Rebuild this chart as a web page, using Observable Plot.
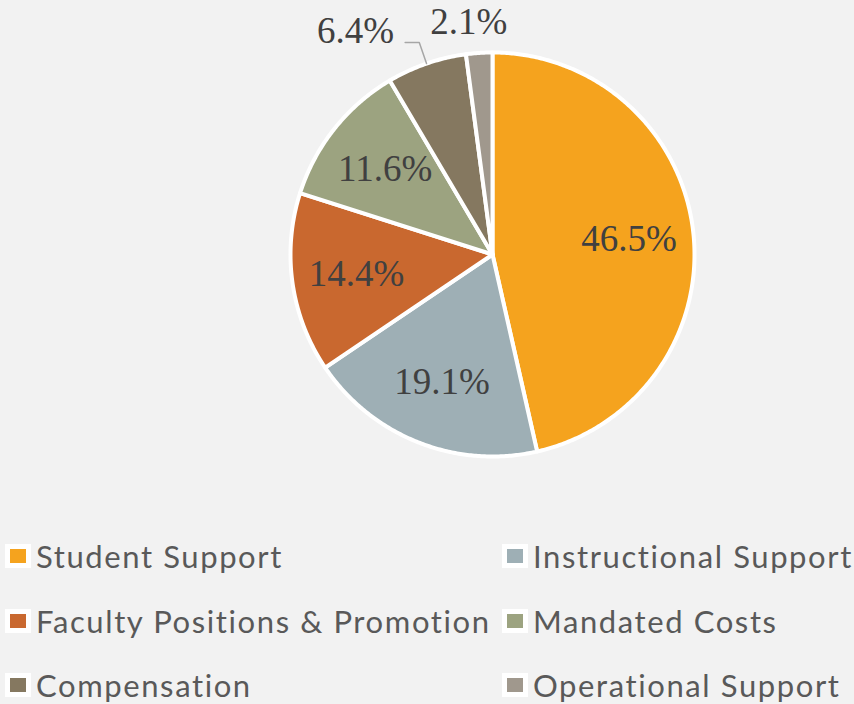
<!DOCTYPE html>
<html>
<head>
<meta charset="utf-8">
<script src="https://cdn.jsdelivr.net/npm/d3@7"></script>
<script src="https://cdn.jsdelivr.net/npm/@observablehq/plot@0.6"></script>
<style>
  html, body { margin: 0; padding: 0; background: #f2f2f2; }
  #wrap { position: relative; width: 854px; height: 704px; background: #f2f2f2; overflow: hidden; }
  #chart svg { display: block; }
  .lg { position: absolute; display: flex; align-items: center; font-family: Lato, "Open Sans", sans-serif; font-size: 31px; letter-spacing: 1.6px; color: #595959; white-space: nowrap; height: 40px; }
  .sw { width: 16px; height: 14px; border: 5px solid #ffffff; margin-right: 5px; box-sizing: content-box; }
</style>
</head>
<body>
<div id="wrap">
  <div id="chart"></div>
  <div id="legend"></div>
</div>
<script>
const categories = ["Student Support", "Instructional Support", "Faculty Positions & Promotion", "Mandated Costs", "Compensation", "Operational Support"];
const shares = [46.5, 19.1, 14.4, 11.6, 6.4, 2.1];
const labels = ["46.5%", "19.1%", "14.4%", "11.6%", "6.4%", "2.1%"];
const colors = ["#f5a31e", "#9eafb5", "#c9682f", "#9ca380", "#857860", "#a0988d"];

const total = d3.sum(shares);
const rad = d => d * Math.PI / 180;
const polar = (deg, r) => ({x: r * Math.sin(rad(deg)), y: r * Math.cos(rad(deg))});

// build slice polygons from the shares
let start = 0;
const slices = categories.map((c, i) => {
  const a0 = start, a1 = start + shares[i] / total * 360;
  start = a1;
  return {cat: c, label: labels[i], share: shares[i], a0, a1, mid: (a0 + a1) / 2};
});
const polyPts = [];
for (const s of slices) {
  polyPts.push({cat: s.cat, x: 0, y: 0});
  const n = Math.max(2, Math.ceil((s.a1 - s.a0) / 0.5));
  for (let k = 0; k <= n; k++) {
    const p = polar(s.a0 + (s.a1 - s.a0) * k / n, 1);
    polyPts.push({cat: s.cat, ...p});
  }
  polyPts.push({cat: s.cat, x: 0, y: 0});
}

const inside = slices.filter(s => s.share >= 10).map(s => ({...s, ...polar(s.mid, 0.68)}));
const comp = slices[4], oper = slices[5];
const elbow = polar(comp.mid, 1.11);
const leader = [polar(comp.mid, 1.0), elbow, {x: elbow.x - 0.07, y: elbow.y}];
const compLabel = [{label: comp.label, x: elbow.x - 0.07, y: elbow.y}];
const operLabel = [{label: oper.label, ...polar(oper.mid, 1.18)}];

const serif = "Liberation Serif, Times New Roman, serif";
const plot = Plot.plot({
  width: 854,
  height: 480,
  margin: 0,
  style: {background: "transparent", overflow: "visible"},
  x: {domain: [-1, 1], range: [290, 694], axis: null},
  y: {domain: [-1, 1], range: [456, 52], axis: null},
  color: {domain: categories, range: colors},
  marks: [
    Plot.line(polyPts, {x: "x", y: "y", z: "cat", fill: "cat", stroke: "#ffffff", strokeWidth: 4, strokeLinejoin: "round", curve: "linear"}),
    Plot.line(leader, {x: "x", y: "y", stroke: "#a6a6a6", strokeWidth: 1.5}),
    Plot.text(inside, {x: "x", y: "y", text: "label", fontFamily: serif, fontSize: 37, fill: "#404040"}),
    Plot.text(compLabel, {x: "x", y: "y", text: "label", dx: -11, textAnchor: "end", lineAnchor: "bottom", fontFamily: serif, fontSize: 37, fill: "#404040"}),
    Plot.text(operLabel, {x: "x", y: "y", text: "label", dx: -8, dy: 5, fontFamily: serif, fontSize: 37, fill: "#404040"})
  ]
});
document.getElementById("chart").appendChild(plot);

// legend: two columns, three rows
const legend = document.getElementById("legend");
categories.forEach((c, i) => {
  const row = Math.floor(i / 2), col = i % 2;
  const item = document.createElement("div");
  item.className = "lg";
  item.style.left = (col === 0 ? 5 : 502) + "px";
  item.style.top = (536 + row * 64.5) + "px";
  const sw = document.createElement("span");
  sw.className = "sw";
  sw.style.background = colors[i];
  const tx = document.createElement("span");
  tx.textContent = c;
  item.appendChild(sw);
  item.appendChild(tx);
  legend.appendChild(item);
});
</script>
</body>
</html>
